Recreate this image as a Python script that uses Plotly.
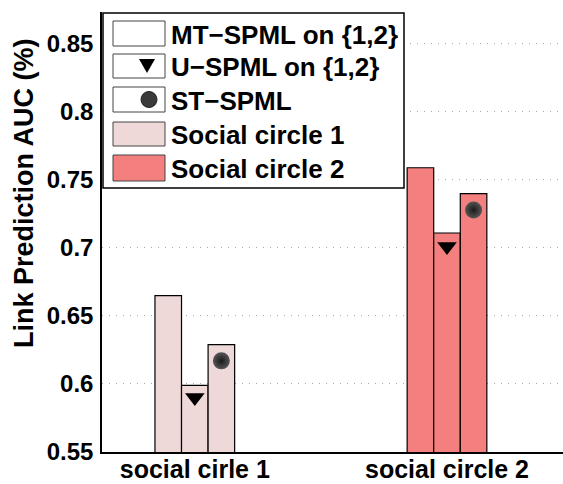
import plotly.graph_objects as go

# ---- data ----
groups = ["social cirle 1", "social circle 2"]
group_pos = [1, 2]
mt_spml = [0.665, 0.759]
u_spml_bar = [0.599, 0.711]
st_spml_bar = [0.629, 0.740]
u_spml_marker = [0.590, 0.701]
st_spml_marker = [0.617, 0.728]
circle_colors = ["#EFD8D8", "#F47F7F"]
y_ticks = [0.55, 0.6, 0.65, 0.7, 0.75, 0.8, 0.85]
y_tick_text = ["0.55", "0.6", "0.65", "0.7", "0.75", "0.8", "0.85"]
y_title = "Link Prediction AUC (%)"
legend_labels = ["MT\u2212SPML on {1,2}", "U\u2212SPML on {1,2}", "ST\u2212SPML",
                 "Social circle 1", "Social circle 2"]

W, H = 563, 484
L, R, T, B = 102, 0, 12, 32
FONT = "Liberation Sans, Arial, sans-serif"

group_width = 0.316
bw = group_width / 3

fig = go.Figure()
for vals in (mt_spml, u_spml_bar, st_spml_bar):
    fig.add_trace(go.Bar(
        x=group_pos, y=vals, marker=dict(color=circle_colors, line=dict(color="black", width=1.2)),
        showlegend=False, hoverinfo="skip"))

fig.add_trace(go.Scatter(
    x=[g for g in group_pos], y=u_spml_marker, mode="markers",
    marker=dict(symbol="triangle-down", size=17, color="black"), showlegend=False,
    xaxis="x2"))
fig.add_trace(go.Scatter(
    x=[g + bw for g in group_pos], y=st_spml_marker, mode="markers",
    marker=dict(symbol="circle", size=17, color="#555555",
                gradient=dict(type="radial", color="#1a1a1a")), showlegend=False,
    xaxis="x2"))

xr = [0.632, 2.46]
fig.update_layout(
    width=W, height=H, margin=dict(l=L, r=R, t=T, b=B, autoexpand=False),
    paper_bgcolor="white", plot_bgcolor="white",
    barmode="group", bargap=1 - group_width, bargroupgap=0,
    font=dict(family=FONT, size=24, color="black"),
    xaxis=dict(range=xr, tickvals=group_pos, ticktext=groups, showgrid=False,
               showline=True, linecolor="black", linewidth=1.5, ticks="",
               automargin=False, ticklabelstandoff=-6,
               tickfont=dict(size=25, family=FONT, weight="bold"), zeroline=False),
    xaxis2=dict(range=xr, overlaying="x", visible=False),
    yaxis=dict(range=[0.55, 0.8735], tickvals=y_ticks, ticktext=y_tick_text,
               showline=True, linecolor="black", linewidth=1.5,
               showgrid=True, gridcolor="#aaaaaa", griddash="1px,6px", gridwidth=1.2,
               ticks="", zeroline=False, automargin=False, ticklabelstandoff=2,
               tickfont=dict(size=24, family=FONT, weight="bold")),
)

# ---- pixel -> paper helpers ----
pw, ph = W - L - R, H - T - B
def px(x):
    return (x - L) / pw
def py(y):
    return 1 - (y - T) / ph

# y-axis title (placed as in the reference, above plot centre)
fig.add_annotation(xref="paper", yref="paper", x=px(24), y=py(193), text=y_title,
                   textangle=-90, showarrow=False, xanchor="center", yanchor="middle",
                   font=dict(size=27, family=FONT, weight="bold", color="black"))

# ---- legend drawn manually ----
shapes = []
shapes.append(dict(type="rect", xref="paper", yref="paper", x0=px(103), x1=px(404),
                   y0=py(188), y1=py(13), line=dict(color="black", width=1.5),
                   fillcolor="white", layer="above"))
rows = [(21, 46), (54, 78), (87, 112), (122, 146), (155, 181)]
fills = ["white", "white", "white", circle_colors[0], circle_colors[1]]
for (y0, y1), f, lab in zip(rows, fills, legend_labels):
    shapes.append(dict(type="rect", xref="paper", yref="paper", x0=px(113), x1=px(165),
                       y0=py(y1), y1=py(y0), line=dict(color="#444444", width=1),
                       fillcolor=f, layer="above"))
    fig.add_annotation(xref="paper", yref="paper", x=px(169), y=py((y0 + y1) / 2 + 1),
                       text=lab, showarrow=False, xanchor="left", yanchor="middle",
                       font=dict(size=26, family=FONT, weight="bold", color="black"))
# triangle marker in legend row 2
cy = (rows[1][0] + rows[1][1]) / 2
shapes.append(dict(type="path", xref="paper", yref="paper",
                   path=f"M {px(139)} {py(cy-7)} L {px(155)} {py(cy-7)} L {px(147)} {py(cy+7)} Z",
                   fillcolor="black", line=dict(width=0), layer="above"))
cy = (rows[2][0] + rows[2][1]) / 2
shapes.append(dict(type="circle", xref="paper", yref="paper",
                   x0=px(141), x1=px(157), y0=py(cy + 8), y1=py(cy - 8),
                   fillcolor="#3a3a3a", line=dict(color="#222222", width=1), layer="above"))
fig.update_layout(shapes=shapes)

fig.write_html("out.html", config={"displayModeBar": False},
               post_script="document.body.style.margin='0';")
